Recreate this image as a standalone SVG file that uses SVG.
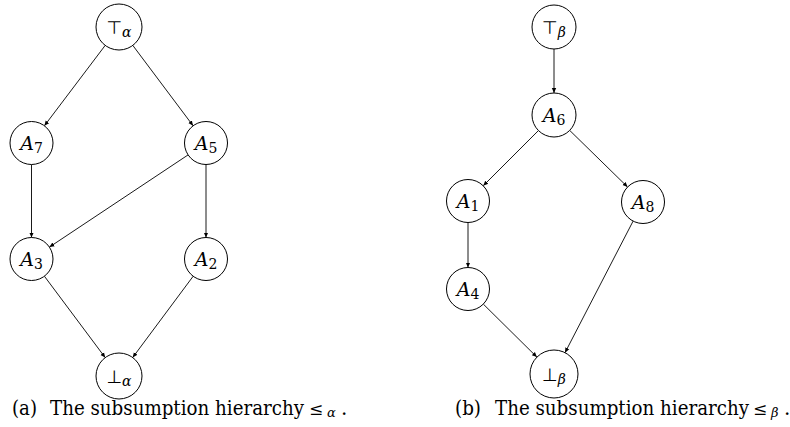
<svg xmlns="http://www.w3.org/2000/svg" width="790" height="427" viewBox="0 0 790 427">
<style>
.node circle{fill:#fff;stroke:#000;stroke-width:1}
.lbl{font-family:'DejaVu Serif','Liberation Serif',serif;font-size:19px;font-style:italic;text-anchor:middle;fill:#000}
.sub{font-style:normal;font-size:14px}
.gsub{font-style:italic;font-size:14px}
.sym{font-family:'DejaVu Sans',sans-serif;font-style:normal;font-size:18px}
.edges line{stroke:#000;stroke-width:0.9;marker-end:url(#ah)}
.cap{font-family:'DejaVu Serif','Liberation Serif',serif;font-size:20px;fill:#000}
.le{font-size:17px}
.capsub{font-style:italic;font-size:13px}
</style>
<defs>
<marker id="ah" markerWidth="6" markerHeight="6" refX="5" refY="3" orient="auto" markerUnits="userSpaceOnUse">
<path d="M0,0.8 L5,3 L0,5.2 Z" fill="#000"/>
</marker>
</defs>
<g class="edges">
<line x1="105.2" y1="45.4" x2="44.4" y2="125.8"/>
<line x1="132.8" y1="45.4" x2="193.1" y2="125.8"/>
<line x1="31.5" y1="164.5" x2="31.5" y2="237.5"/>
<line x1="206" y1="164.5" x2="206" y2="237.5"/>
<line x1="188.1" y1="154.9" x2="49.4" y2="247.1"/>
<line x1="44.4" y1="276.2" x2="105.2" y2="357.6"/>
<line x1="193.2" y1="276.2" x2="132.7" y2="357.5"/>
<line x1="554" y1="49" x2="554" y2="93"/>
<line x1="538.4" y1="130.6" x2="483.2" y2="185.8"/>
<line x1="569.7" y1="130.4" x2="627.6" y2="187.0"/>
<line x1="468" y1="222.5" x2="468" y2="267.5"/>
<line x1="483.3" y1="304.1" x2="536.9" y2="357.1"/>
<line x1="633.1" y1="221.1" x2="565.0" y2="352.7"/>
</g>
<g id="top_alpha" class="node"><circle cx="119" cy="27" r="23"/><text class="lbl" x="119" y="34"><tspan class="sym">⊤</tspan><tspan class="gsub" dy="3">α</tspan></text></g>
<g id="A7" class="node"><circle cx="31.5" cy="143" r="21.5"/><text class="lbl" x="31.5" y="150">A<tspan class="sub" dy="3">7</tspan></text></g>
<g id="A5" class="node"><circle cx="206" cy="143" r="21.5"/><text class="lbl" x="206" y="150">A<tspan class="sub" dy="3">5</tspan></text></g>
<g id="A3" class="node"><circle cx="31.5" cy="259" r="21.5"/><text class="lbl" x="31.5" y="266">A<tspan class="sub" dy="3">3</tspan></text></g>
<g id="A2" class="node"><circle cx="206" cy="259" r="21.5"/><text class="lbl" x="206" y="266">A<tspan class="sub" dy="3">2</tspan></text></g>
<g id="bot_alpha" class="node"><circle cx="119" cy="376" r="23"/><text class="lbl" x="119" y="383"><tspan class="sym">⊥</tspan><tspan class="gsub" dy="3">α</tspan></text></g>
<g id="top_beta" class="node"><circle cx="554" cy="27" r="22"/><text class="lbl" x="554" y="34"><tspan class="sym">⊤</tspan><tspan class="gsub" dy="3">β</tspan></text></g>
<g id="A6" class="node"><circle cx="554" cy="115" r="22"/><text class="lbl" x="554" y="122">A<tspan class="sub" dy="3">6</tspan></text></g>
<g id="A1" class="node"><circle cx="468" cy="201" r="21.5"/><text class="lbl" x="468" y="208">A<tspan class="sub" dy="3">1</tspan></text></g>
<g id="A8" class="node"><circle cx="643" cy="202" r="21.5"/><text class="lbl" x="643" y="209">A<tspan class="sub" dy="3">8</tspan></text></g>
<g id="A4" class="node"><circle cx="468" cy="289" r="21.5"/><text class="lbl" x="468" y="296">A<tspan class="sub" dy="3">4</tspan></text></g>
<g id="bot_beta" class="node"><circle cx="554" cy="374" r="24"/><text class="lbl" x="554" y="381"><tspan class="sym">⊥</tspan><tspan class="gsub" dy="3">β</tspan></text></g>
<text class="cap" y="415"><tspan x="12" textLength="25" lengthAdjust="spacingAndGlyphs">(a)</tspan><tspan x="50" textLength="254" lengthAdjust="spacingAndGlyphs">The subsumption hierarchy</tspan><tspan class="le" x="309">≤</tspan><tspan x="327" class="capsub" dy="2">α</tspan><tspan x="341" dy="-2">.</tspan></text>
<text class="cap" y="415"><tspan x="455" textLength="26" lengthAdjust="spacingAndGlyphs">(b)</tspan><tspan x="495" textLength="254" lengthAdjust="spacingAndGlyphs">The subsumption hierarchy</tspan><tspan class="le" x="753">≤</tspan><tspan x="771" class="capsub" dy="2">β</tspan><tspan x="784" dy="-2">.</tspan></text>
</svg>
